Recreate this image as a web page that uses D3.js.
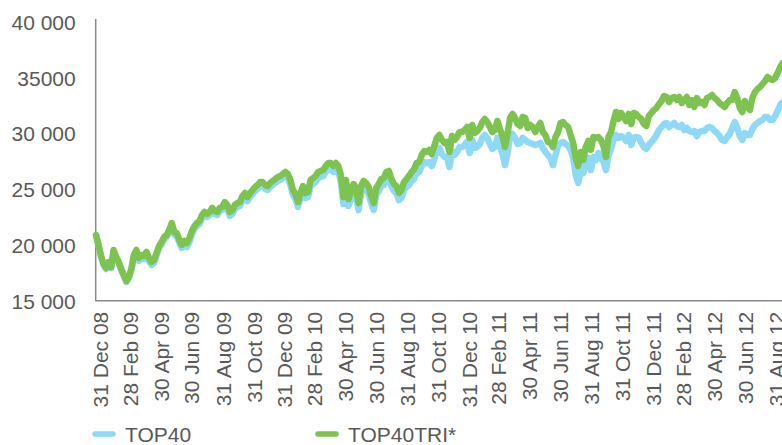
<!DOCTYPE html>
<html>
<head>
<meta charset="utf-8">
<script src="https://cdn.jsdelivr.net/npm/d3@7"></script>
<style>
  body { margin: 0; background: #fff; }
  text { font-family: "Liberation Sans", Arial, Helvetica, sans-serif; }
</style>
</head>
<body>
<div id="chart"></div>
<script>
// series sampled every 5 days starting from startDate
const startDate = "2008-12-23";
const stepDays = 5;

const top40 = [
  20890,20000,18920,18200,17840,18380,17930,19460,18830,18380,17750,17220,16680,17040,17750,18920,19370,18560,18830,18740,
  19100,18560,18200,18380,19100,19730,20090,20540,20720,21160,21790,20890,20800,20180,19730,20090,19820,20270,20980,21430,
  21700,21880,22420,22690,22510,22690,23050,22780,22690,23050,23140,23590,23320,22600,22780,23230,
  23410,23500,24030,24300,23940,24300,24570,24840,25020,25290,25290,25020,24930,25200,25380,25560,25740,25830,26010,26190,
  26010,25380,24480,24120,23410,24210,24840,24210,24300,25290,25470,25650,26010,26100,26190,26550,26810,26810,26550,26810,
  26550,25650,23680,25200,23500,24120,24840,24480,23140,24660,25110,24930,24570,23760,23140,24480,
  24840,25290,25380,25920,26010,25290,24840,24660,24030,24210,24930,25200,25380,25740,25920,26460,26550,27080,27440,27350,
  27440,27080,27710,28430,28700,28160,27890,27890,26990,28430,28070,28340,28790,28790,28970,29240,28250,29420,28700,28790,
  29060,29600,29860,29600,29060,28610,28790,29600,28790,28160,27170,28250,29680,29950,29600,
  29060,29150,29600,29420,29240,29150,29060,28970,29060,29150,28700,28340,28070,27800,27170,28070,28880,29150,29240,29060,
  28880,28520,27800,26280,25560,26720,26460,27440,27800,26720,27890,27620,28250,27890,27440,26720,28070,28610,29420,29860,
  29600,29770,29600,29330,29860,28970,29600,29680,29600,29150,28790,28610,28970,29240,29510,29860,
  30310,30580,30850,30940,30580,30760,30940,30670,30580,30760,30310,30490,30220,30130,30220,29770,30130,30220,30220,30490,
  30580,30490,30220,30040,29770,29420,29330,29680,29950,30490,31030,30490,29770,29420,30040,29860,29860,30400,30760,30940,
  31120,31210,31480,31480,31210,31210,31570,32020,32560,32820
];

const top40tri = [
  20890,20000,19010,18290,17930,18470,18020,19550,18920,18470,17840,17310,16770,17130,17840,19100,19550,18830,19100,19010,
  19370,18830,18470,18650,19280,19910,20270,20720,20890,21340,21970,21160,21070,20450,20000,20360,20180,20630,21250,21700,
  21970,22150,22690,22960,22780,22960,23320,23050,22960,23320,23410,23850,23590,22960,23140,23590,
  23760,23850,24390,24660,24300,24660,24930,25200,25380,25650,25650,25380,25290,25560,25740,25920,26100,26190,26370,26550,
  26370,25830,24930,24570,23850,24660,25290,24660,24750,25830,26010,26190,26550,26640,26720,27080,27350,27350,27080,27350,
  27080,26280,24300,25830,24120,24750,25470,25110,23760,25290,25740,25560,25200,24390,23760,25110,
  25470,25920,26010,26550,26640,25920,25470,25290,24660,24930,25650,25920,26190,26550,26810,27350,27440,28070,28430,28340,
  28520,28160,28880,29600,29860,29420,29150,29240,28340,29770,29420,29680,30130,30130,30310,30580,29600,30760,30040,30220,
  30490,31030,31300,31030,30580,30130,30310,31120,30400,29770,28790,29950,31390,31750,31390,
  30850,30670,31480,31390,30490,30760,30580,30130,30580,30940,30130,29860,29240,29150,28790,29680,30130,30940,31030,30760,
  30580,29860,29150,27800,27080,28340,27620,28790,29330,28520,29680,29600,29680,29420,28880,27890,29680,30130,31120,31930,
  31300,31840,31480,31120,31750,30850,31840,31750,31480,31300,30850,30670,31570,31840,32110,32290,
  32640,32910,33360,33270,32820,33180,33270,33000,33270,32730,33000,33270,32560,33000,32380,33180,32730,32820,32560,33180,
  33270,33450,33180,33000,32730,32560,32380,32730,33000,33000,33720,33180,32290,31930,32910,32380,32110,33180,33720,33990,
  34170,34440,34710,35070,34890,34800,34980,35430,35960,36320
];

const seriesNames = ["TOP40", "TOP40TRI*"];

const yTickValues = [15000, 20000, 25000, 30000, 35000, 40000];
const yTickLabels = ["15 000", "20 000", "25 000", "30 000", "35000", "40 000"];

const xTickLabels = [
  "31 Dec 08", "28 Feb 09", "30 Apr 09", "30 Jun 09", "31 Aug 09", "31 Oct 09",
  "31 Dec 09", "28 Feb 10", "30 Apr 10", "30 Jun 10", "31 Aug 10", "31 Oct 10",
  "31 Dec 10", "28 Feb 11", "30 Apr 11", "30 Jun 11", "31 Aug 11", "31 Oct 11",
  "31 Dec 11", "28 Feb 12", "30 Apr 12", "30 Jun 12", "31 Aug 12"
];

const colors = ["#8ed8f8", "#7dc350"];
const textColor = "#595959";
const axisColor = "#8a8a8a";

const W = 782, H = 445;
const plot = {left: 96, right: 782.7, top: 22, bottom: 300.7};

const parseStart = d3.timeParse("%Y-%m-%d");
const parseTick = d3.timeParse("%d %b %y");
const start = parseStart(startDate);
const dates = top40.map((d, i) => d3.timeDay.offset(start, i * stepDays));

const x = d3.scaleTime()
    .domain([start, dates[dates.length - 1]])
    .range([plot.left, plot.right]);

const y = d3.scaleLinear()
    .domain([15000, 40000])
    .range([plot.bottom, plot.top]);

const svg = d3.select("#chart")
  .append("svg")
    .attr("width", W)
    .attr("height", H);

// y axis labels
const yAxis = svg.append("g")
    .attr("transform", `translate(${plot.left - 0.3}, 0)`)
    .call(d3.axisLeft(y)
        .tickValues(yTickValues)
        .tickFormat((d, i) => yTickLabels[i])
        .tickSize(0)
        .tickPadding(20));
yAxis.select(".domain").remove();
yAxis.selectAll("text")
    .attr("fill", textColor)
    .style("font-size", "21px")
    .attr("dy", "0.35em");

// x axis labels (rotated)
const tickDates = xTickLabels.map(parseTick);
const xAxis = svg.append("g")
    .attr("transform", `translate(0, ${plot.bottom})`)
    .call(d3.axisBottom(x)
        .tickValues(tickDates)
        .tickFormat((d, i) => xTickLabels[i])
        .tickSize(0));
xAxis.select(".domain").remove();
xAxis.selectAll("text")
    .attr("fill", textColor)
    .style("font-size", "21px")
    .attr("transform", "rotate(-90)")
    .attr("text-anchor", "end")
    .attr("x", -11)
    .attr("y", 0)
    .attr("dy", "0.36em");

// axis lines
svg.append("line")
    .attr("x1", plot.left - 0.3).attr("x2", plot.left - 0.3)
    .attr("y1", plot.top - 3).attr("y2", plot.bottom)
    .attr("stroke", axisColor).attr("stroke-width", 1.5);
svg.append("line")
    .attr("x1", plot.left - 1).attr("x2", W)
    .attr("y1", plot.bottom).attr("y2", plot.bottom)
    .attr("stroke", axisColor).attr("stroke-width", 1.5);

// lines
const line = d3.line()
    .x(d => x(d.date))
    .y(d => y(d.value));

[top40, top40tri].forEach((series, k) => {
  const pts = series.map((v, i) => ({date: dates[i], value: v}));
  svg.append("path")
      .datum(pts)
      .attr("fill", "none")
      .attr("stroke", colors[k])
      .attr("stroke-width", 6.5)
      .attr("stroke-linejoin", "round")
      .attr("stroke-linecap", "round")
      .attr("d", line);
});

// legend
const legendX = [93, 316];
const legend = svg.append("g").attr("transform", "translate(0, 434)");
seriesNames.forEach((name, k) => {
  legend.append("line")
      .attr("x1", legendX[k] + 2).attr("x2", legendX[k] + 20)
      .attr("y1", 0).attr("y2", 0)
      .attr("stroke", colors[k])
      .attr("stroke-width", 5.5)
      .attr("stroke-linecap", "round");
  legend.append("text")
      .attr("x", legendX[k] + 32)
      .attr("y", 0)
      .attr("dy", "0.36em")
      .attr("fill", textColor)
      .style("font-size", "21px")
      .text(name);
});
</script>
</body>
</html>
